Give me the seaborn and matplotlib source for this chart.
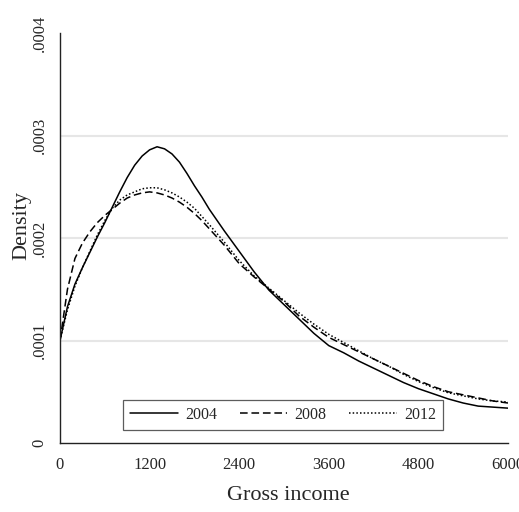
import matplotlib
matplotlib.use("Agg")
import matplotlib.pyplot as plt
import numpy as np
import pandas as pd
import seaborn as sns

# Kernel density of gross income by survey year (density in units of 1e-4)
income = [0, 100, 200, 300, 400, 500, 600, 700, 800, 900, 1000,
          1100, 1200, 1300, 1400, 1500, 1600, 1700, 1800, 1900, 2000,
          2200, 2400, 2600, 2800, 3000, 3200, 3400, 3600, 3800, 4000,
          4200, 4400, 4600, 4800, 5000, 5200, 5400, 5600, 5800, 6000]
dens_2004 = [1.00, 1.33, 1.55, 1.71, 1.86, 2.01, 2.15, 2.30, 2.45, 2.59, 2.71,
             2.80, 2.86, 2.89, 2.87, 2.82, 2.74, 2.63, 2.51, 2.40, 2.28,
             2.07, 1.87, 1.67, 1.49, 1.35, 1.21, 1.07, 0.95, 0.88, 0.80,
             0.73, 0.66, 0.59, 0.53, 0.48, 0.43, 0.39, 0.36, 0.35, 0.34]
dens_2008 = [1.00, 1.50, 1.80, 1.95, 2.06, 2.15, 2.22, 2.28, 2.34, 2.39, 2.42,
             2.44, 2.45, 2.44, 2.42, 2.39, 2.35, 2.30, 2.24, 2.17, 2.09,
             1.93, 1.75, 1.62, 1.50, 1.38, 1.24, 1.13, 1.03, 0.96, 0.89,
             0.82, 0.75, 0.68, 0.61, 0.55, 0.50, 0.47, 0.44, 0.41, 0.39]
dens_2012 = [1.00, 1.30, 1.53, 1.71, 1.87, 2.03, 2.17, 2.29, 2.37, 2.42, 2.45,
             2.48, 2.49, 2.49, 2.47, 2.44, 2.40, 2.35, 2.29, 2.21, 2.13,
             1.96, 1.78, 1.63, 1.51, 1.39, 1.27, 1.16, 1.06, 0.98, 0.90,
             0.82, 0.75, 0.67, 0.60, 0.54, 0.49, 0.46, 0.43, 0.41, 0.40]
years = ["2004", "2008", "2012"]

x_ticks = [0, 1200, 2400, 3600, 4800, 6000]
y_ticks = [0, 0.0001, 0.0002, 0.0003, 0.0004]
y_tick_labels = ["0", ".0001", ".0002", ".0003", ".0004"]

frames = []
for yr, vals in zip(years, [dens_2004, dens_2008, dens_2012]):
    frames.append(pd.DataFrame({"income": income,
                                "density": np.array(vals) * 1e-4,
                                "year": yr}))
df = pd.concat(frames, ignore_index=True)

sns.set_style("white")
plt.rcParams["font.family"] = ["Liberation Serif", "DejaVu Serif"]

fig = plt.figure(figsize=(5.19, 5.12), dpi=100)
ax = fig.add_axes([60 / 519, 69 / 512, 448 / 519, 410 / 512])

sns.lineplot(data=df, x="income", y="density", style="year",
             style_order=years, color="black", linewidth=1.1,
             dashes={"2004": "", "2008": (5, 2.5), "2012": (1, 1.4)},
             ax=ax)

ax.set_xlim(0, 6000)
ax.set_ylim(0, 0.0004)
ax.set_xticks(x_ticks)
ax.set_xticklabels([str(t) for t in x_ticks], fontsize=12)
ax.set_yticks(y_ticks)
ax.set_yticklabels(y_tick_labels, fontsize=12, rotation=90, va="center")

# horizontal grid only at interior levels
for yv in y_ticks[1:-1]:
    ax.axhline(yv, color="#e6e6e6", linewidth=1.5, zorder=0)

for side in ["top", "right"]:
    ax.spines[side].set_visible(False)
for side in ["left", "bottom"]:
    ax.spines[side].set_color("#222222")
    ax.spines[side].set_linewidth(1.0)
ax.tick_params(axis="both", direction="out", length=5, width=0.9,
               color="#444444", pad=4)
ax.tick_params(axis="x", pad=5)

ax.set_xlabel("Gross income", fontsize=16, va="center")
ax.xaxis.set_label_coords((288 - 60) / 448, (443 - 495) / 410)
ax.set_ylabel("Density", fontsize=16, va="center", ha="center")
ax.yaxis.set_label_coords((22 - 60) / 448, (443 - 226) / 410)

handles, labels = ax.get_legend_handles_labels()
leg = ax.legend(handles, labels, loc="lower center",
                bbox_to_anchor=(0.498, 0.012), ncol=3, frameon=True,
                fancybox=False, fontsize=11.5, handlelength=3.0,
                handletextpad=0.45, columnspacing=1.4, borderpad=0.45,
                edgecolor="#333333")
leg.get_frame().set_linewidth(0.9)

fig.savefig("out.png", dpi=100)
